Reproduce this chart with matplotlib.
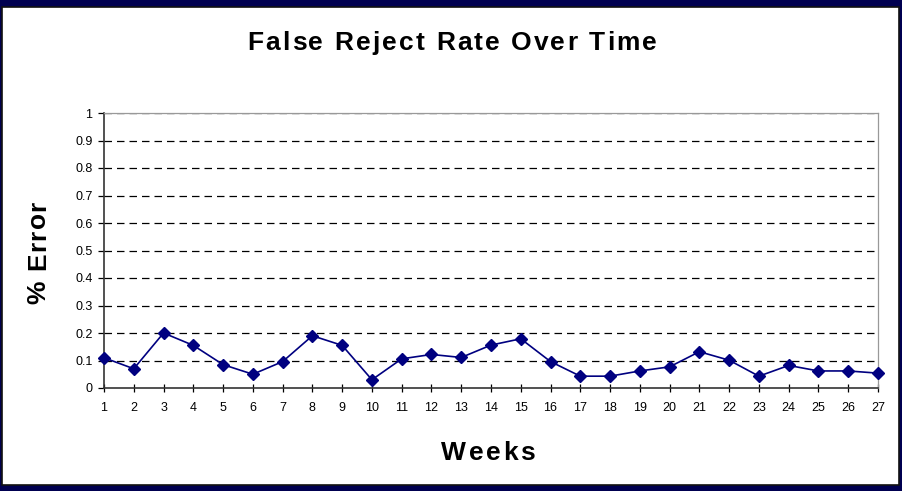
import matplotlib
matplotlib.use('Agg')
import matplotlib.pyplot as plt
from matplotlib.patches import Rectangle
from matplotlib.font_manager import FontProperties
from matplotlib.textpath import TextToPath

plt.rcParams['font.family'] = ['Liberation Sans', 'DejaVu Sans']

# data
weeks = list(range(1, 28))
error_rate = [0.11, 0.07, 0.20, 0.155, 0.085, 0.05, 0.096, 0.19, 0.155, 0.03,
              0.106, 0.122, 0.111, 0.156, 0.179, 0.096, 0.043, 0.043, 0.062, 0.077,
              0.132, 0.101, 0.043, 0.082, 0.062, 0.062, 0.054]
y_ticks = [0, 0.1, 0.2, 0.3, 0.4, 0.5, 0.6, 0.7, 0.8, 0.9, 1]
y_tick_labels = ['0', '0.1', '0.2', '0.3', '0.4', '0.5', '0.6', '0.7', '0.8', '0.9', '1']

W, H = 903, 491
fig = plt.figure(figsize=(W / 100, H / 100), dpi=100)
fig.patch.set_facecolor('#000050')

# white panel with dark edge
panel = Rectangle((2 / W, 6 / H), 897 / W, 478 / H, transform=fig.transFigure,
                  facecolor='white', edgecolor='#111111', linewidth=1.2, zorder=-1)
fig.patches.append(panel)

ax = fig.add_axes([104 / W, (H - 388) / H, (878 - 104) / W, (388 - 113) / H])
ax.set_zorder(1)
ax.set_facecolor('white')

ax.plot(weeks, error_rate, color='#000080', linewidth=1.2, marker='D',
        markersize=6.3, markerfacecolor='#000080', markeredgecolor='#000080',
        clip_on=False, zorder=3)

ax.set_xlim(1, 27)
ax.set_ylim(0, 1)
ax.set_xticks(weeks)
ax.set_xticklabels([str(w) for w in weeks])
ax.set_yticks(y_ticks)
ax.set_yticklabels(y_tick_labels)

for v in y_ticks[1:]:
    ax.axhline(v, color='black', linestyle=(0, (6, 4)), linewidth=0.9, zorder=1)

ax.tick_params(axis='x', direction='inout', length=6, width=0.9, labelsize=9, pad=7)
ax.tick_params(axis='y', direction='out', length=4.3, width=0.9, labelsize=9, pad=4)

for s in ['left', 'bottom']:
    ax.spines[s].set_color('#333333')
    ax.spines[s].set_linewidth(1.2)
for s in ['top', 'right']:
    ax.spines[s].set_color('#999999')
    ax.spines[s].set_linewidth(0.9)


# letter-spaced bold text, centred on (cx, cy) in pixels from top-left
ttp = TextToPath()


def spaced_text(cx, cy, s, size, gap, vertical=False):
    fp = FontProperties(family='Liberation Sans', weight='bold', size=size)
    widths = []
    for ch in s:
        w, h, d = ttp.get_text_width_height_descent(ch, fp, ismath=False)
        widths.append(w * 100 / 72)
    total = sum(widths) + gap * (len(s) - 1)
    pos = -total / 2
    for ch, w in zip(s, widths):
        c = pos + w / 2
        if vertical:
            x, y = cx, cy - c
            rot = 90
        else:
            x, y = cx + c, cy
            rot = 0
        fig.text(x / W, 1 - y / H, ch, ha='center', va='center', rotation=rot,
                 fontproperties=fp)
        pos += w + gap


spaced_text(452, 43, 'False Reject Rate Over Time', 19, 2.1)
spaced_text(488, 453, 'Weeks', 19, 2.6)
spaced_text(38, 252, '% Error', 19, 1.3, vertical=True)

fig.savefig('out.png', dpi=100, facecolor=fig.get_facecolor())
